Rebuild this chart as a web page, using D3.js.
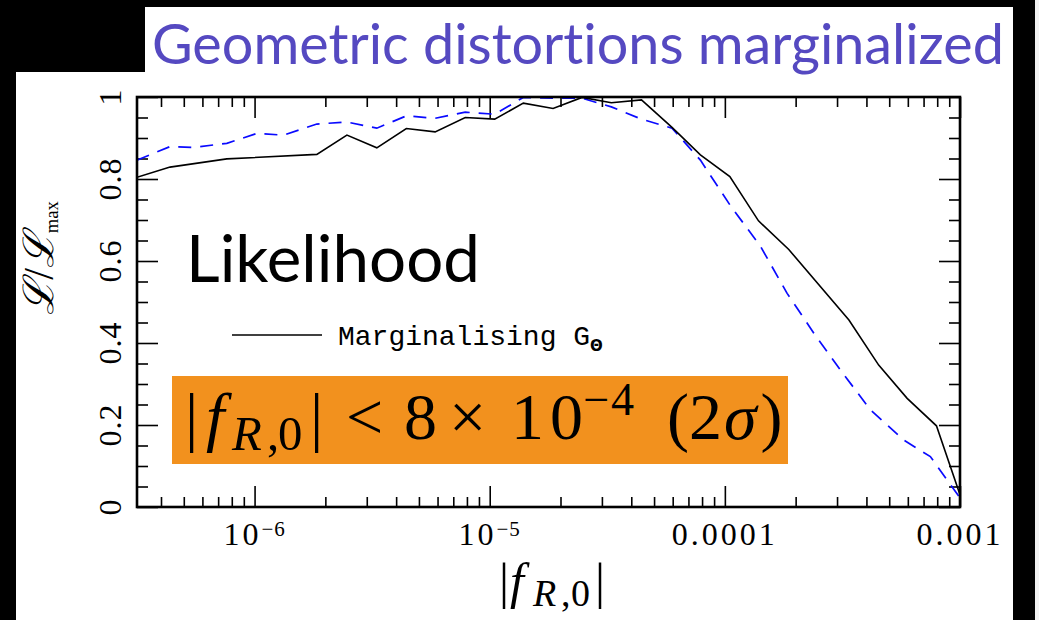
<!DOCTYPE html>
<html>
<head>
<meta charset="utf-8">
<script src="https://cdn.jsdelivr.net/npm/d3@7"></script>
<style>
  html, body { margin: 0; padding: 0; background: #000; }
  svg { display: block; }
  text { font-variant-ligatures: none; font-kerning: normal; }
</style>
</head>
<body>
<svg id="chart" width="1039" height="620"></svg>
<script>
// Likelihood of |f_R,0|, marginalising over G_Theta (solid)
const fR0Marg = [3.16e-7, 4.37e-7, 7.62e-7, 1.84e-6, 2.47e-6, 3.31e-6, 4.42e-6, 5.86e-6, 7.87e-6,
  1.05e-5, 1.39e-5, 1.86e-5, 2.47e-5, 3.29e-5, 4.42e-5, 5.96e-5, 7.87e-5, 1.05e-4, 1.39e-4,
  1.87e-4, 3.37e-4, 4.51e-4, 5.96e-4, 7.94e-4, 1.0e-3];
const likeMarg = [0.804, 0.829, 0.849, 0.860, 0.907, 0.876, 0.923, 0.915, 0.950,
  0.946, 0.985, 0.972, 0.999, 0.986, 0.993, 0.926, 0.859, 0.806, 0.698,
  0.628, 0.456, 0.346, 0.265, 0.198, 0.030];

// Likelihood with G_Theta held fixed (dashed)
const fR0Fixed = [3.16e-7, 4.37e-7, 5.5e-7, 7.62e-7, 1.02e-6, 1.33e-6, 1.84e-6, 2.47e-6, 3.31e-6,
  4.42e-6, 5.86e-6, 7.87e-6, 1.05e-5, 1.39e-5, 1.86e-5, 2.47e-5, 3.29e-5, 4.42e-5, 5.96e-5,
  7.87e-5, 1.05e-4, 1.42e-4, 1.84e-4, 2.39e-4, 3.1e-4, 4.16e-4, 5.77e-4, 7.48e-4, 1.0e-3];
const likeFixed = [0.846, 0.879, 0.877, 0.887, 0.911, 0.907, 0.934, 0.939, 0.924,
  0.954, 0.948, 0.963, 0.958, 0.999, 0.997, 0.997, 0.976, 0.946, 0.924,
  0.846, 0.737, 0.635, 0.521, 0.424, 0.334, 0.237, 0.163, 0.123, 0.022];

const yTickValues = [0, 0.2, 0.4, 0.6, 0.8, 1];
const yTickLabels = ["0", "0.2", "0.4", "0.6", "0.8", "1"];
const xTickValues = [1e-6, 1e-5, 1e-4, 1e-3];
const xTickBase = ["10", "10", "0.0001", "0.001"];
const xTickExp = ["\u22126", "\u22125", "", ""];

const titleText = "Geometric distortions marginalized";
const legendText = "Marginalising G";

const SERIF = "'Liberation Serif', 'DejaVu Serif', serif";
const SANS = "Lato, 'Open Sans', 'Noto Sans', sans-serif";

const svg = d3.select("#chart");

// slide background panels
svg.append("rect").attr("x", 0).attr("y", 0).attr("width", 1039).attr("height", 620).attr("fill", "#000");
svg.append("rect").attr("x", 16).attr("y", 72).attr("width", 997).attr("height", 548).attr("fill", "#fff");
svg.append("rect").attr("x", 145).attr("y", 7).attr("width", 868).attr("height", 66).attr("fill", "#fff");
svg.append("rect").attr("x", 1035).attr("y", 0).attr("width", 4).attr("height", 620).attr("fill", "#f2f2f2");

// fit a text element's width to a target by scaling its font size
function fitWidth(sel, target) {
  const base = parseFloat(sel.attr("font-size"));
  const w = sel.node().getBBox().width;
  sel.attr("font-size", base * target / w);
}

// title
const title = svg.append("text")
  .attr("x", 152).attr("y", 64)
  .attr("font-family", SANS).attr("font-size", 56)
  .attr("fill", "#5549c1")
  .text(titleText);
fitWidth(title, 852);

const m = { left: 137, top: 97, right: 960, bottom: 507 };
const x = d3.scaleLog().domain([Math.pow(10, -6.5), 1e-3]).range([m.left, m.right]);
const y = d3.scaleLinear().domain([0, 1]).range([m.bottom, m.top]);

const xMinor = x.ticks().filter(v => !xTickValues.some(t => Math.abs(v / t - 1) < 1e-6));
const yMinor = d3.range(0, 1.0001, 0.05).filter(v => !yTickValues.some(t => Math.abs(v - t) < 1e-6));

const axes = svg.append("g");
function addAxis(axis, transform) {
  const a = axes.append("g").attr("transform", transform).call(axis);
  a.select(".domain").remove();
  a.selectAll("text").remove();
  a.selectAll("line").attr("stroke", "#000").attr("stroke-width", 1.6);
}
addAxis(d3.axisBottom(x).tickValues(xMinor).tickSize(-10), `translate(0,${m.bottom})`);
addAxis(d3.axisBottom(x).tickValues(xTickValues).tickSize(-21), `translate(0,${m.bottom})`);
addAxis(d3.axisTop(x).tickValues(xMinor).tickSize(-10), `translate(0,${m.top})`);
addAxis(d3.axisTop(x).tickValues(xTickValues).tickSize(-21), `translate(0,${m.top})`);
addAxis(d3.axisLeft(y).tickValues(yMinor).tickSize(-11), `translate(${m.left},0)`);
addAxis(d3.axisLeft(y).tickValues(yTickValues).tickSize(-21), `translate(${m.left},0)`);
addAxis(d3.axisRight(y).tickValues(yMinor).tickSize(-11), `translate(${m.right},0)`);
addAxis(d3.axisRight(y).tickValues(yTickValues).tickSize(-21), `translate(${m.right},0)`);

// clip for the curves
svg.append("clipPath").attr("id", "plotClip")
  .append("rect").attr("x", m.left).attr("y", m.top - 2)
  .attr("width", m.right - m.left).attr("height", m.bottom - m.top + 2);

const line = d3.line().x(d => x(d[0])).y(d => y(d[1]));
const curves = svg.append("g").attr("clip-path", "url(#plotClip)");
curves.append("path")
  .datum(d3.zip(fR0Fixed, likeFixed))
  .attr("d", line).attr("fill", "none")
  .attr("stroke", "#0a0aff").attr("stroke-width", 1.7)
  .attr("stroke-dasharray", "13,9");
curves.append("path")
  .datum(d3.zip(fR0Marg, likeMarg))
  .attr("d", line).attr("fill", "none")
  .attr("stroke", "#000").attr("stroke-width", 1.6);

// frame
svg.append("rect").attr("x", m.left).attr("y", m.top)
  .attr("width", m.right - m.left).attr("height", m.bottom - m.top)
  .attr("fill", "none").attr("stroke", "#000").attr("stroke-width", 2.6);

// y tick labels (rotated)
svg.append("g").selectAll("text").data(yTickValues).join("text")
  .attr("transform", d => `translate(121,${y(d)}) rotate(-90)`)
  .attr("text-anchor", "middle")
  .attr("font-family", SERIF).attr("font-size", 32).attr("letter-spacing", 1)
  .attr("fill", "#000")
  .text((d, i) => yTickLabels[i]);

// x tick labels with exponents
const xl = svg.append("g").selectAll("text").data(xTickValues).join("text")
  .attr("x", d => x(d)).attr("y", 545)
  .attr("text-anchor", "middle")
  .attr("font-family", SERIF).attr("font-size", 32).attr("letter-spacing", 3)
  .attr("fill", "#000");
xl.append("tspan").text((d, i) => xTickBase[i]);
xl.append("tspan").attr("dy", -9).attr("font-size", 21).attr("letter-spacing", 1)
  .text((d, i) => xTickExp[i]);

// math text builder: parts with optional italic / sub / super / absolute x / spacing
function mathText(parent, parts, size, attrs) {
  const t = parent.append("text")
    .attr("font-family", SERIF).attr("font-size", size)
    .attr("fill", "#000").style("white-space", "pre");
  Object.entries(attrs || {}).forEach(([k, v]) => t.attr(k, v));
  let shift = 0;
  parts.forEach(p => {
    const target = p.sub ? 0.16 : p.sup ? -0.36 : 0;
    const ts = t.append("tspan").text(p.t);
    ts.attr("dy", ((target - shift) * size) + "px");
    if (p.x !== undefined) ts.attr("x", p.x);
    if (p.ls !== undefined) ts.attr("letter-spacing", p.ls);
    if (p.sub || p.sup) ts.attr("font-size", size * (p.scale || 0.7));
    if (p.it) ts.attr("font-style", "italic");
    shift = target;
  });
  return t;
}

// y axis label  L / L_max
const yLab = mathText(svg, [
  { t: "\u2112", it: true }, { t: "/" }, { t: "\u2112", it: true }, { t: "max", sub: true, scale: 0.62 }
], 30, { "text-anchor": "middle", transform: "translate(53,258) rotate(-90)" });
fitWidth(yLab, 128);

// x axis label  |f_R,0|
mathText(svg, [
  { t: "|", x: 499 }, { t: "f", it: true, x: 510 },
  { t: "R", it: true, sub: true, x: 533, scale: 0.76 }, { t: ",", sub: true, x: 561, scale: 0.76 },
  { t: "0", sub: true, x: 571, scale: 0.76 },
  { t: "|", x: 595 }
], 50, { y: 598 });

// "Likelihood" annotation
const lk = svg.append("text")
  .attr("x", 186).attr("y", 282)
  .attr("font-family", SANS).attr("font-size", 66)
  .attr("fill", "#000").text("Likelihood");
fitWidth(lk, 294);

// legend
svg.append("line").attr("x1", 232).attr("x2", 322).attr("y1", 335).attr("y2", 335)
  .attr("stroke", "#000").attr("stroke-width", 1.6);
const lg = svg.append("text").attr("x", 338).attr("y", 345)
  .attr("font-family", "'Liberation Mono', monospace").attr("font-size", 28)
  .attr("fill", "#000");
lg.append("tspan").text(legendText);
lg.append("tspan").attr("dy", 6).attr("font-size", 15).attr("font-family", "'DejaVu Sans', sans-serif")
  .attr("font-weight", "bold").text("\u0398");

// constraint box
svg.append("rect").attr("x", 172).attr("y", 376).attr("width", 616).attr("height", 88)
  .attr("fill", "#f2911e");
mathText(svg, [
  { t: "|", x: 185 }, { t: "f", it: true, x: 206 },
  { t: "R", it: true, sub: true, x: 232, scale: 0.74 }, { t: ",", sub: true, x: 267, scale: 0.74 },
  { t: "0", sub: true, x: 278, scale: 0.74 },
  { t: "|", x: 310 },
  { t: "<", x: 346 },
  { t: "8", x: 404 },
  { t: "\u00d7", x: 449 },
  { t: "10", x: 511, ls: 6 },
  { t: "\u22124", sup: true, x: 583, ls: 2 },
  { t: "(", x: 667 }, { t: "2", ls: 2 }, { t: "\u03c3", it: true, ls: 4 }, { t: ")" }
], 66, { y: 439 });
</script>
</body>
</html>
